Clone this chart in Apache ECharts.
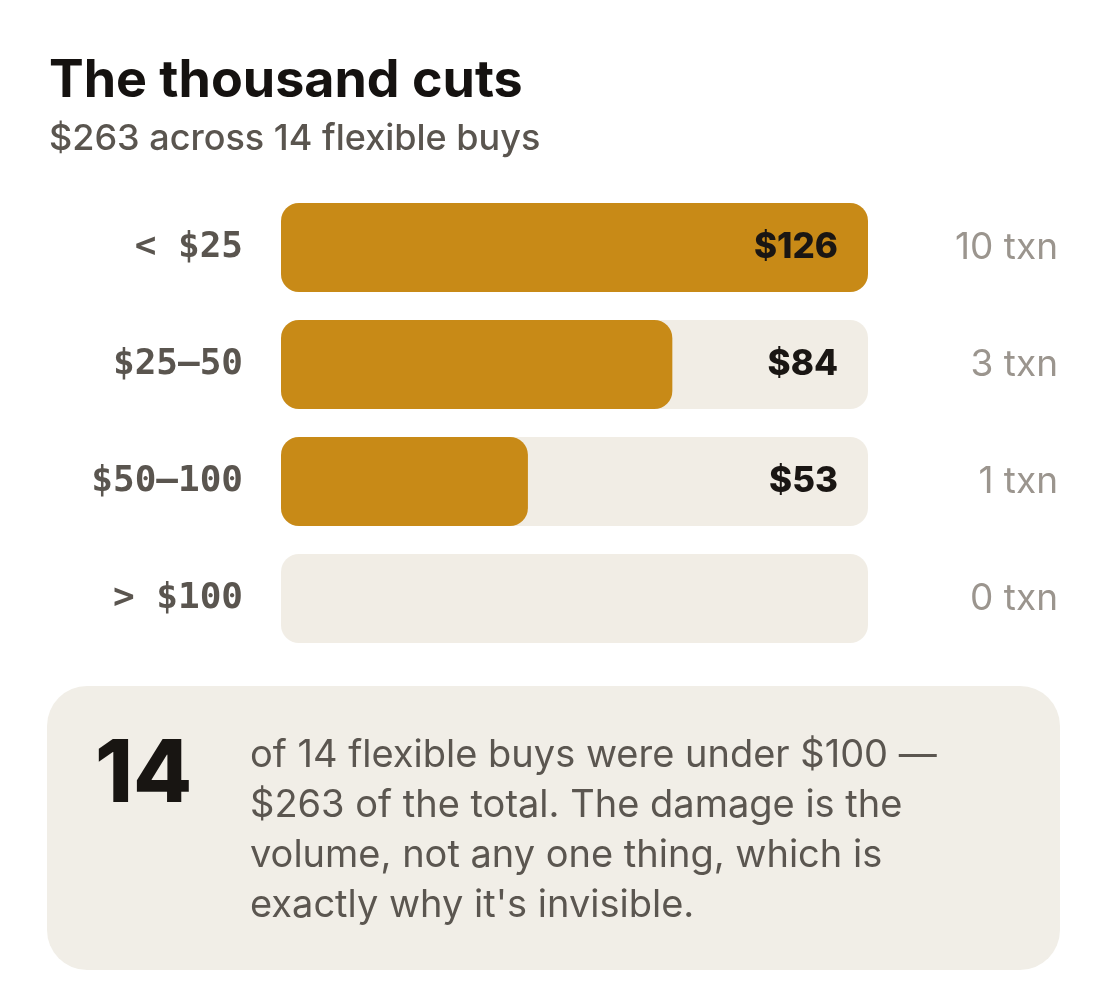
<!DOCTYPE html>
<html><head><meta charset="utf-8">
<script src="https://cdn.jsdelivr.net/npm/echarts@6/dist/echarts.min.js"></script>
<style>html,body{margin:0;padding:0;background:#fff}#c{width:1108px;height:1007px}</style>
</head><body><div id="c"></div>
<script>
const categories = ['< $25', '$25\u201450', '$50\u2014100', '> $100'];
const values = [126, 84, 53, 0];
const txnCounts = [10, 3, 1, 0];
const titleText = 'The thousand cuts';
const subtitleText = '$263 across 14 flexible buys';
const bigNumber = '14';
const calloutLines = [
  'of 14 flexible buys were under $100 \u2014',
  '$263 of the total. The damage is the',
  'volume, not any one thing, which is',
  "exactly why it's invisible."
];

const chart = echarts.init(document.getElementById('c'));
const maxV = Math.max(...values);
const valueLabels = values.map(v => v > 0 ? '$' + v : '');
const txnLabels = txnCounts.map(n => n + ' txn');

chart.setOption({
  backgroundColor: '#ffffff',
  animation: false,
  grid: { left: 281, right: 240, top: 189, bottom: 350 },
  xAxis: { type: 'value', min: 0, max: maxV, show: false },
  yAxis: [
    { type: 'category', data: categories, inverse: true,
      axisLine: { show: false }, axisTick: { show: false }, splitLine: { show: false },
      axisLabel: { margin: 38, padding: [5, 0, 0, 0], fontFamily: 'DejaVu Sans Mono', fontWeight: 'bold', fontSize: 36, color: '#5a554f' } },
    { type: 'category', data: valueLabels, inverse: true, position: 'right', z: 10,
      axisLine: { show: false }, axisTick: { show: false }, splitLine: { show: false },
      axisLabel: { margin: -30, align: 'right', padding: [3, 0, 0, 0], fontFamily: 'Inter', fontWeight: 800, fontSize: 35, color: '#1a1613' } },
    { type: 'category', data: txnLabels, inverse: true, position: 'right',
      axisLine: { show: false }, axisTick: { show: false }, splitLine: { show: false },
      axisLabel: { margin: 190, align: 'right', padding: [4, 0, 0, 0], fontFamily: 'Inter', fontWeight: 400, fontSize: 37, color: '#9b958e' } }
  ],
  series: [{
    type: 'bar', yAxisIndex: 0, data: values, barWidth: 89,
    showBackground: true,
    backgroundStyle: { color: '#f1ede5', borderRadius: 18 },
    itemStyle: { color: '#c88a17', borderRadius: 18 },
    label: { show: false }
  }],
  graphic: [
    { type: 'text', left: 49, top: 55, z: 10, style: { text: titleText, font: '700 52px Inter', fill: '#151210' } },
    { type: 'text', left: 49, top: 121, z: 10, style: { text: subtitleText, font: '500 36px Inter', fill: '#5a554f' } },
    { type: 'rect', shape: { x: 47, y: 686, width: 1013, height: 284, r: 40 }, style: { fill: '#f1eee7' }, z: 1 },
    { type: 'text', left: 95, top: 733, z: 10, style: { text: bigNumber, font: '800 86px Inter', fill: '#181512' } },
    { type: 'text', left: 250, top: 731, z: 10, style: { text: calloutLines.join('\n'), font: '400 38px Inter', lineHeight: 50, fill: '#5b5650' } }
  ]
});
</script></body></html>
